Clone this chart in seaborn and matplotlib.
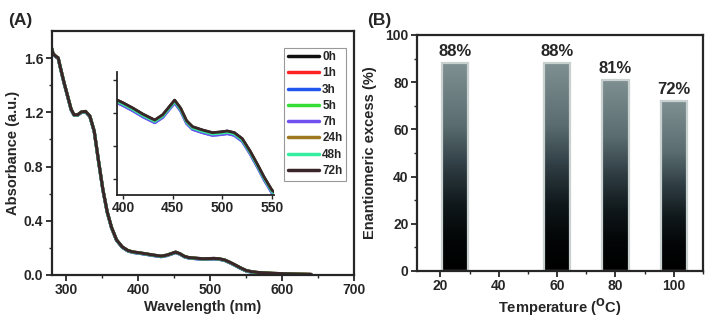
import numpy as np
import pandas as pd
import matplotlib
matplotlib.use("Agg")
import matplotlib.pyplot as plt
from matplotlib.colors import LinearSegmentedColormap
from matplotlib.lines import Line2D
import seaborn as sns

# ---------------- data ----------------
wavelength = [280, 282, 286, 289, 292, 297, 302, 307, 311, 316, 321, 327, 333, 339,
              345, 351, 357, 363, 370, 378, 386, 393, 400, 410, 420, 432, 440, 446,
              452, 458, 464, 470, 480, 490, 498, 505, 512, 520, 528, 535, 542, 550,
              558, 566, 575, 585, 600, 620, 640]
absorbance = [1.67, 1.63, 1.61, 1.60, 1.53, 1.42, 1.32, 1.22, 1.18, 1.18, 1.20, 1.205,
              1.17, 1.06, 0.84, 0.63, 0.465, 0.35, 0.257, 0.205, 0.178, 0.168, 0.163,
              0.155, 0.146, 0.137, 0.145, 0.156, 0.167, 0.155, 0.136, 0.127, 0.122,
              0.118, 0.119, 0.1205, 0.118, 0.109, 0.090, 0.071, 0.051, 0.031, 0.022,
              0.017, 0.014, 0.011, 0.008, 0.005, 0.003]
times = ["0h", "1h", "3h", "5h", "7h", "24h", "48h", "72h"]
time_shift = [0.002, 0.0, -0.002, 0.001, -0.002, 0.001, 0.0, 0.002]
time_colors = ["#111111", "#ff2222", "#2255ee", "#33dd33", "#7050ee",
               "#a07820", "#33eea0", "#3a2528"]

temperatures = [25, 60, 80, 100]
ee_values = [88, 88, 81, 72]
ee_labels = ["88%", "88%", "81%", "72%"]

# ---------------- style ----------------
sns.set_style("ticks")
plt.rcParams["font.family"] = ["Liberation Sans", "DejaVu Sans"]
plt.rcParams["font.weight"] = "bold"
plt.rcParams["axes.labelweight"] = "bold"
plt.rcParams["axes.linewidth"] = 1.5
plt.rcParams["mathtext.default"] = "bf"

rows = []
for t, s in zip(times, time_shift):
    for w, a in zip(wavelength, absorbance):
        rows.append({"Wavelength": w, "Absorbance": a + s, "Time": t})
df = pd.DataFrame(rows)
palette = dict(zip(times, time_colors))

fig = plt.figure(figsize=(7.16, 3.21), dpi=100)
W, H = 716, 321

def box(l, r, t, b):
    return [l / W, 1 - b / H, (r - l) / W, (b - t) / H]

axA = fig.add_axes(box(51.7, 354.3, 31, 275))
axB = fig.add_axes(box(417, 703, 35, 271))
axI = fig.add_axes(box(117, 274, 71.7, 195))

tick_fs = 10
label_fs = 10.5

# ---------------- Panel A ----------------
sns.lineplot(data=df, x="Wavelength", y="Absorbance", hue="Time", hue_order=times,
             palette=palette, linewidth=2.2, ax=axA, legend=False)
axA.set_xlim(280, 700)
axA.set_ylim(0, 1.8)
axA.set_xticks([300, 400, 500, 600, 700])
axA.set_xticks([350, 450, 550, 650], minor=True)
axA.set_yticks([0.0, 0.4, 0.8, 1.2, 1.6])
axA.set_yticks([0.2, 0.6, 1.0, 1.4], minor=True)
axA.set_yticklabels(["0.0", "0.4", "0.8", "1.2", "1.6"])
axA.set_xlabel("Wavelength (nm)", fontsize=label_fs, fontweight="bold", labelpad=2)
axA.set_ylabel("Absorbance (a.u.)", fontsize=label_fs, fontweight="bold", labelpad=3)
axA.tick_params(axis="both", which="major", direction="out", length=4, width=1.3,
                labelsize=tick_fs, pad=2)
axA.tick_params(axis="both", which="minor", direction="out", length=2, width=1.0)
for sp in axA.spines.values():
    sp.set_linewidth(1.6)

handles = [Line2D([0], [0], color=c, lw=2.5) for c in time_colors]
leg = axA.legend(handles, times, loc="upper right",
                 bbox_to_anchor=(346 / W, 1 - 47.7 / H), bbox_transform=fig.transFigure,
                 frameon=True, fancybox=False, edgecolor="#999999", framealpha=1,
                 handlelength=2.6, handletextpad=0.3, labelspacing=0.36,
                 borderpad=0.3, borderaxespad=0,
                 prop={"weight": "bold", "size": 8.5})
leg.get_frame().set_linewidth(0.8)

# inset
sns.lineplot(data=df, x="Wavelength", y="Absorbance", hue="Time", hue_order=times,
             palette=palette, linewidth=2.0, ax=axI, legend=False)
axI.set_xlim(394, 552)
axI.set_ylim(0.026, 0.212)
axI.set_xticks([400, 450, 500, 550])
axI.set_yticks([0.05, 0.10, 0.15, 0.20])
axI.set_yticklabels([])
axI.set_xlabel("")
axI.set_ylabel("")
axI.spines["top"].set_visible(False)
axI.spines["right"].set_visible(False)
axI.spines["left"].set_linewidth(1.3)
axI.spines["bottom"].set_linewidth(1.3)
axI.tick_params(axis="both", direction="out", length=3, width=1.0,
                labelsize=tick_fs, pad=1)
axI.patch.set_alpha(0)

fig.text(8 / W, 1 - 21 / H, "(A)", fontsize=12.5, fontweight="bold", va="center")

# ---------------- Panel B ----------------
sns.barplot(x=temperatures, y=ee_values, native_scale=True, width=0.45,
            color="#888888", ax=axB)
cmap = LinearSegmentedColormap.from_list(
    "bargrad", [(0.0, "#000000"), (0.15, "#030506"), (0.32, "#10181b"),
                (0.5, "#2e3c42"), (0.7, "#5a6c70"), (1.0, "#7f9092")])
grad = np.linspace(0, 1, 256).reshape(-1, 1)
for patch in list(axB.patches):
    x0, y0 = patch.get_x(), patch.get_y()
    w, h = patch.get_width(), patch.get_height()
    im = axB.imshow(grad, extent=[x0, x0 + w, y0, y0 + h], origin="lower",
                    cmap=cmap, aspect="auto", zorder=1.5, interpolation="bilinear")
    im.set_clip_path(patch)
    patch.set_facecolor("none")
    patch.set_edgecolor("#c9d0d0")
    patch.set_linewidth(1.6)
    patch.set_zorder(2)
axB.bar_label(axB.containers[0], labels=ee_labels, padding=3,
              fontsize=12, fontweight="bold")
axB.set_xlim(12, 110)
axB.set_ylim(0, 100)
axB.set_xticks([20, 40, 60, 80, 100])
axB.set_xticks([30, 50, 70, 90, 110], minor=True)
axB.set_yticks([0, 20, 40, 60, 80, 100])
axB.set_yticks([10, 30, 50, 70, 90], minor=True)
axB.set_xlabel("Temperature ($^{O}$C)", fontsize=label_fs, fontweight="bold", labelpad=2)
axB.set_ylabel("Enantiomeric excess (%)", fontsize=label_fs, fontweight="bold", labelpad=6)
axB.tick_params(axis="both", which="major", direction="out", length=4, width=1.3,
                labelsize=tick_fs, pad=2)
axB.tick_params(axis="both", which="minor", direction="out", length=2, width=1.0)
for sp in axB.spines.values():
    sp.set_linewidth(1.6)

fig.text(367 / W, 1 - 20 / H, "(B)", fontsize=12.5, fontweight="bold", va="center")

fig.savefig("out.png", dpi=100)
